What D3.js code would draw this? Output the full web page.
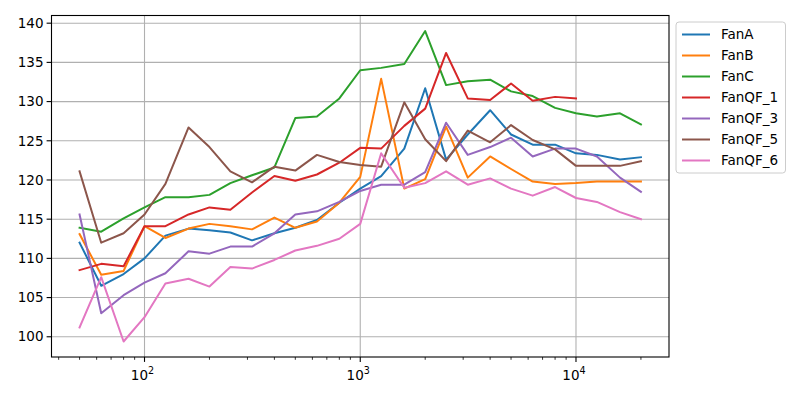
<!DOCTYPE html>
<html>
<head>
<meta charset="utf-8">
<script src="https://cdn.jsdelivr.net/npm/d3@7"></script>
<style>
  body { margin: 0; background: #fff; }
  svg { font-family: "DejaVu Sans", sans-serif; }
</style>
</head>
<body>
<svg id="chart" width="800" height="400"></svg>
<script>
const freqs = [50, 63, 80, 100, 125, 160, 200, 250, 315, 400, 500, 630, 800, 1000, 1250, 1600, 2000, 2500, 3150, 4000, 5000, 6300, 8000, 10000, 12500, 16000, 20000];

const fanA    = [112.0, 106.5, 108.0, 110.0, 112.9, 113.8, 113.6, 113.3, 112.3, 113.2, 113.9, 114.9, 117.1, 118.9, 120.5, 124.0, 131.7, 122.6, 125.8, 128.9, 125.8, 124.5, 124.5, 123.4, 123.2, 122.6, 122.9];
const fanB    = [113.1, 107.9, 108.4, 114.1, 112.6, 113.8, 114.4, 114.1, 113.7, 115.2, 113.9, 114.7, 117.1, 120.4, 132.9, 118.9, 120.1, 126.8, 120.3, 123.0, 121.4, 119.8, 119.5, 119.6, 119.8, 119.8, 119.8];
const fanC    = [113.9, 113.4, 115.1, 116.5, 117.8, 117.8, 118.1, 119.6, 120.6, 121.6, 127.9, 128.1, 130.4, 134.0, 134.3, 134.8, 139.0, 132.1, 132.6, 132.8, 131.3, 130.7, 129.2, 128.5, 128.1, 128.5, 127.1];
const fanQF1  = [108.5, 109.3, 109.0, 114.1, 114.1, 115.6, 116.5, 116.2, 118.4, 120.5, 119.9, 120.7, 122.2, 124.1, 124.0, 126.9, 129.1, 136.2, 130.4, 130.2, 132.3, 130.1, 130.6, 130.4, null, null, null];
const fanQF3  = [115.6, 103.0, 105.3, 106.9, 108.1, 110.9, 110.6, 111.5, 111.5, 113.2, 115.6, 116.0, 117.2, 118.6, 119.4, 119.4, 121.0, 127.3, 123.2, 124.2, 125.4, 123.0, 124.0, 124.0, 123.0, 120.3, 118.5];
const fanQF5  = [121.1, 112.0, 113.2, 115.6, 119.5, 126.7, 124.2, 121.1, 119.7, 121.7, 121.2, 123.2, 122.3, 121.9, 121.7, 129.9, 125.2, 122.4, 126.3, 124.8, 127.0, 125.1, 123.9, 121.8, 121.8, 121.8, 122.4];
const fanQF6  = [101.2, 107.6, 99.4, 102.5, 106.8, 107.4, 106.4, 108.9, 108.7, 109.8, 111.0, 111.6, 112.5, 114.4, 123.4, 119.0, 119.6, 121.1, 119.4, 120.2, 118.9, 118.0, 119.1, 117.7, 117.2, 115.9, 115.0];

const seriesNames = ["FanA", "FanB", "FanC", "FanQF_1", "FanQF_3", "FanQF_5", "FanQF_6"];
const seriesValues = [fanA, fanB, fanC, fanQF1, fanQF3, fanQF5, fanQF6];
const colors = ["#1f77b4", "#ff7f0e", "#2ca02c", "#d62728", "#9467bd", "#8c564b", "#e377c2"];
const yTicks = [100, 105, 110, 115, 120, 125, 130, 135, 140];
const xTicks = [100, 1000, 10000];
const xTickExp = ["2", "3", "4"];

const svg = d3.select("#chart");
const L = 51.5, R = 669, T = 15.5, B = 357;

// domains with matplotlib-style 5% margins
const lmin = Math.log10(d3.min(freqs)), lmax = Math.log10(d3.max(freqs));
const lpad = (lmax - lmin) * 0.05;
const x = d3.scaleLog().domain([Math.pow(10, lmin - lpad), Math.pow(10, lmax + lpad)]).range([L, R]);
const allVals = seriesValues.flat().filter(v => v != null);
const vmin = d3.min(allVals), vmax = d3.max(allVals);
const vpad = (vmax - vmin) * 0.05;
const y = d3.scaleLinear().domain([vmin - vpad, vmax + vpad]).range([B, T]);

// grid
const grid = svg.append("g");
yTicks.forEach(t => {
  grid.append("line").attr("x1", L).attr("x2", R).attr("y1", y(t)).attr("y2", y(t))
    .attr("stroke", "#b0b0b0").attr("stroke-width", 1.1);
});
xTicks.forEach(t => {
  grid.append("line").attr("x1", x(t)).attr("x2", x(t)).attr("y1", T).attr("y2", B)
    .attr("stroke", "#b0b0b0").attr("stroke-width", 1.1);
});

// lines
svg.append("clipPath").attr("id", "clip").append("rect")
  .attr("x", L).attr("y", T).attr("width", R - L).attr("height", B - T);
const line = d3.line()
  .defined(d => d.v != null)
  .x(d => x(d.f)).y(d => y(d.v));
seriesValues.forEach((vals, i) => {
  const pts = freqs.map((f, j) => ({f: f, v: vals[j]}));
  svg.append("path").datum(pts)
    .attr("d", line)
    .attr("fill", "none")
    .attr("stroke", colors[i])
    .attr("stroke-width", 2)
    .attr("stroke-linejoin", "round")
    .attr("stroke-linecap", "square")
    .attr("clip-path", "url(#clip)");
});

// axes frame
svg.append("rect").attr("x", L).attr("y", T).attr("width", R - L).attr("height", B - T)
  .attr("fill", "none").attr("stroke", "#000").attr("stroke-width", 1.1);

// y ticks
yTicks.forEach(t => {
  svg.append("line").attr("x1", L - 4.9).attr("x2", L).attr("y1", y(t)).attr("y2", y(t))
    .attr("stroke", "#000").attr("stroke-width", 1.1);
  svg.append("text").attr("x", L - 8).attr("y", y(t)).attr("dy", "0.35em")
    .attr("text-anchor", "end").attr("font-size", "13.5px").attr("fill", "#000").text(t);
});

// x major ticks
xTicks.forEach((t, i) => {
  svg.append("line").attr("x1", x(t)).attr("x2", x(t)).attr("y1", B).attr("y2", B + 4.9)
    .attr("stroke", "#000").attr("stroke-width", 1.1);
  const tx = svg.append("text").attr("x", x(t) - 2).attr("y", B + 23)
    .attr("text-anchor", "middle").attr("font-size", "13.5px").attr("fill", "#000");
  tx.append("tspan").text("10");
  tx.append("tspan").attr("dy", "-6").attr("font-size", "9.6px").text(xTickExp[i]);
});
// x minor ticks
const [d0, d1] = x.domain();
for (let e = Math.floor(Math.log10(d0)); e <= Math.ceil(Math.log10(d1)); e++) {
  for (let m = 2; m <= 9; m++) {
    const v = m * Math.pow(10, e);
    if (v < d0 || v > d1) continue;
    svg.append("line").attr("x1", x(v)).attr("x2", x(v)).attr("y1", B).attr("y2", B + 2.8)
      .attr("stroke", "#000").attr("stroke-width", 0.8);
  }
}

// legend
const lg = svg.append("g");
const lx = 676, ly = 22, lw = 109.5, lh = 151;
lg.append("rect").attr("x", lx).attr("y", ly).attr("width", lw).attr("height", lh)
  .attr("rx", 3).attr("fill", "#fff").attr("fill-opacity", 0.8)
  .attr("stroke", "#cccccc").attr("stroke-width", 1);
seriesNames.forEach((n, i) => {
  const yy = ly + 12.5 + i * 21;
  lg.append("line").attr("x1", lx + 6).attr("x2", lx + 34).attr("y1", yy).attr("y2", yy)
    .attr("stroke", colors[i]).attr("stroke-width", 2);
  lg.append("text").attr("x", lx + 45).attr("y", yy).attr("dy", "0.35em")
    .attr("font-size", "13.5px").attr("fill", "#000").text(n);
});
</script>
</body>
</html>
